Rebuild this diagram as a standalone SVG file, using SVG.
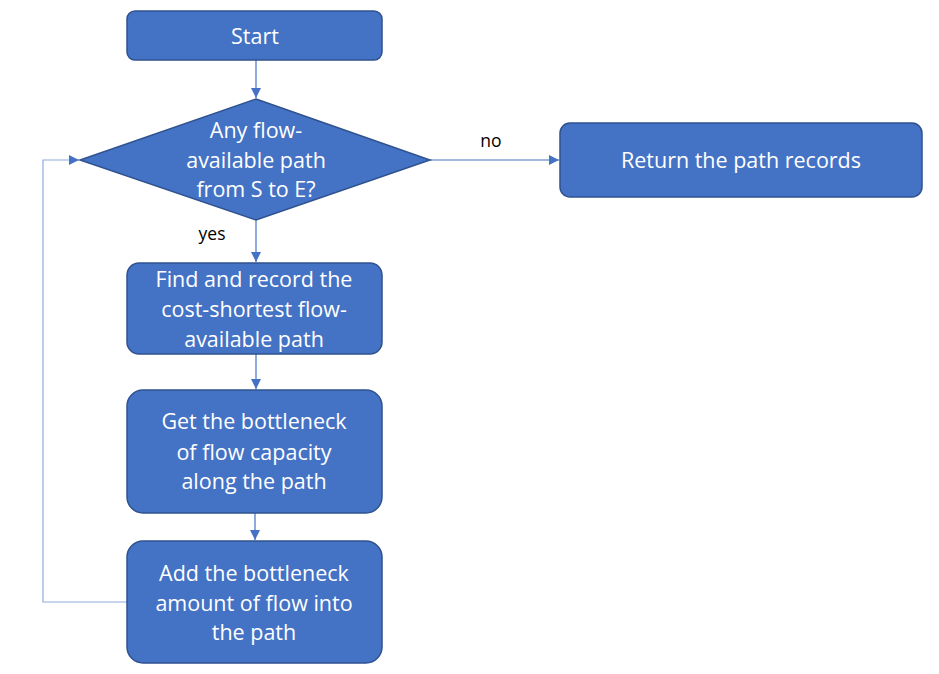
<svg xmlns="http://www.w3.org/2000/svg" width="939" height="674" viewBox="0 0 939 674">
<defs>
<style>
.box{fill:#4472C4;stroke:#2F528F;stroke-width:1.5}
.t{fill:#fff;font-family:"Open Sans","Liberation Sans",sans-serif;font-size:21.5px;text-anchor:middle;dominant-baseline:central}
.lbl{fill:#000;font-family:"Open Sans","Liberation Sans",sans-serif;font-size:17.5px;text-anchor:middle;dominant-baseline:central}
.c{fill:none;stroke:#4472C4;stroke-width:1.2}
</style>
<marker id="ah" viewBox="0 0 10 10" refX="10" refY="5" markerWidth="10" markerHeight="10" markerUnits="userSpaceOnUse" orient="auto">
<path d="M0,0 L10,5 L0,10 Z" fill="#4472C4"/>
</marker>
</defs>
<rect width="939" height="674" fill="#fff"/>
<g id="connectors">
<line class="c" x1="256" y1="60" x2="256" y2="98" marker-end="url(#ah)"/>
<line class="c" x1="430" y1="160" x2="559" y2="160" marker-end="url(#ah)"/>
<line class="c" x1="256" y1="220" x2="256" y2="262" marker-end="url(#ah)"/>
<line class="c" x1="256" y1="354" x2="256" y2="389" marker-end="url(#ah)"/>
<line class="c" x1="255" y1="513" x2="255" y2="540" marker-end="url(#ah)"/>
<polyline class="c" style="stroke:#8FAADC" points="127,602 43,602 43,160 79,160" marker-end="url(#ah)"/>
<text class="lbl" x="491" y="140">no</text>
<text class="lbl" x="212" y="233">yes</text>
</g>
<g id="start">
<rect class="box" x="127" y="11" width="255" height="49" rx="8"/>
<text class="t" x="255" y="35">Start</text>
</g>
<g id="decision">
<polygon class="box" points="256,99 430,160 256,220 80,160"/>
<text class="t" x="256" y="129">Any flow-</text>
<text class="t" x="256" y="159">available path</text>
<text class="t" x="256" y="188">from S to E?</text>
</g>
<g id="return">
<rect class="box" x="560" y="123" width="362" height="74" rx="10"/>
<text class="t" x="741" y="159">Return the path records</text>
</g>
<g id="find">
<rect class="box" x="127" y="263" width="255" height="91" rx="12"/>
<text class="t" x="254" y="278">Find and record the</text>
<text class="t" x="254" y="308">cost-shortest flow-</text>
<text class="t" x="254" y="338">available path</text>
</g>
<g id="get">
<rect class="box" x="127" y="390" width="255" height="123" rx="16"/>
<text class="t" x="254" y="420">Get the bottleneck</text>
<text class="t" x="254" y="451">of flow capacity</text>
<text class="t" x="254" y="480">along the path</text>
</g>
<g id="add">
<rect class="box" x="127" y="541" width="255" height="122" rx="16"/>
<text class="t" x="254" y="572">Add the bottleneck</text>
<text class="t" x="254" y="602">amount of flow into</text>
<text class="t" x="254" y="631">the path</text>
</g>
</svg>
